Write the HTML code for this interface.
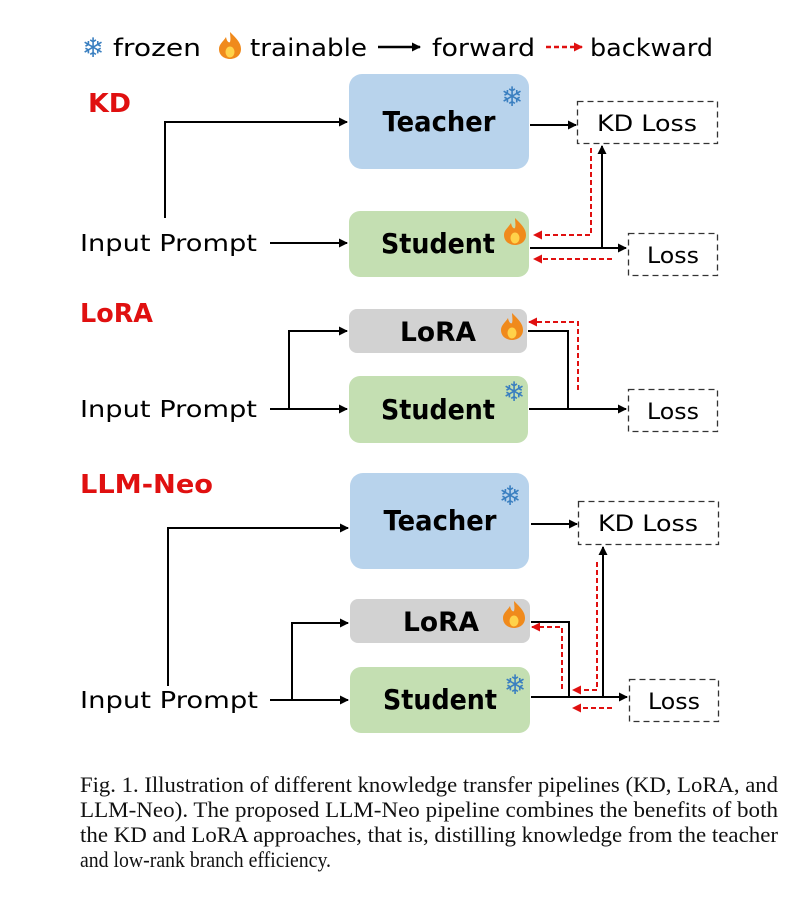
<!DOCTYPE html>
<html><head><meta charset="utf-8"><style>
html,body{margin:0;padding:0;background:#fff;}
svg{display:block}
.h{font-family:"Comic Sans MS","DejaVu Sans",sans-serif;}
.b{font-family:"Comic Sans MS","DejaVu Sans",sans-serif;font-weight:bold;}
.c{font-family:"Liberation Serif",serif;font-size:22px;fill:#111;}
</style></head><body>
<svg width="801" height="911" viewBox="0 0 801 911" xmlns="http://www.w3.org/2000/svg">
<defs>
<marker id="ak" markerWidth="9" markerHeight="9" refX="8" refY="4.5" orient="auto" markerUnits="userSpaceOnUse"><path d="M0,0 L9,4.5 L0,9 z" fill="#000"/></marker>
<marker id="ar" markerWidth="9" markerHeight="9" refX="8" refY="4.5" orient="auto" markerUnits="userSpaceOnUse"><path d="M0,0 L9,4.5 L0,9 z" fill="#e01010"/></marker>
<g id="flame"><path d="M0,-13 C7,-6 11,-2 11,4 C11,11 5,14 0,14 C-5,14 -11,11 -11,4 C-11,-1 -7,-3 -4,-8 C-3,-3 -1,-2 0,-3 C1,-6 0,-10 0,-13 z" fill="#f08a1c"/><ellipse cx="0" cy="7" rx="4.5" ry="5.5" fill="#ffd24a"/></g>
</defs>
<rect width="801" height="911" fill="#fff"/>

<!-- legend -->
<text x="93" y="57" font-size="27" fill="#3a7fc0" text-anchor="middle" class="b">❄</text>
<text x="113" y="56" font-size="24" class="h" textLength="88" lengthAdjust="spacingAndGlyphs">frozen</text>
<use href="#flame" x="230" y="45"/>
<text x="250" y="56" font-size="24" class="h" textLength="117" lengthAdjust="spacingAndGlyphs">trainable</text>
<line x1="378" y1="47" x2="420" y2="47" stroke="#000" stroke-width="2.5" marker-end="url(#ak)"/>
<text x="432" y="56" font-size="24" class="h" textLength="103" lengthAdjust="spacingAndGlyphs">forward</text>
<line x1="546" y1="47" x2="582" y2="47" stroke="#e01010" stroke-width="2.5" stroke-dasharray="5,3" marker-end="url(#ar)"/>
<text x="590" y="56" font-size="24" class="h" textLength="123" lengthAdjust="spacingAndGlyphs">backward</text>

<!-- KD section -->
<text x="88" y="112" font-size="26" fill="#e01010" class="b" textLength="43" lengthAdjust="spacingAndGlyphs">KD</text>
<rect x="349" y="74" width="180" height="95" rx="13" fill="#b8d3ec"/>
<text x="439" y="131" font-size="28" class="b" text-anchor="middle" textLength="113" lengthAdjust="spacingAndGlyphs">Teacher</text>
<text x="512" y="106" font-size="27" fill="#3a7fc0" text-anchor="middle" class="b">❄</text>
<rect x="349" y="211" width="180" height="66" rx="11" fill="#c4dfb2"/>
<text x="438" y="253" font-size="28" class="b" text-anchor="middle" textLength="114" lengthAdjust="spacingAndGlyphs">Student</text>
<use href="#flame" x="515" y="231"/>
<rect x="577.5" y="101.5" width="140" height="42" fill="none" stroke="#333" stroke-width="1.3" stroke-dasharray="6,4"/>
<text x="647" y="131" font-size="22" class="h" text-anchor="middle" textLength="100" lengthAdjust="spacingAndGlyphs">KD Loss</text>
<rect x="628.5" y="233.5" width="89" height="42" fill="none" stroke="#333" stroke-width="1.3" stroke-dasharray="6,4"/>
<text x="673" y="263" font-size="22" class="h" text-anchor="middle" textLength="52" lengthAdjust="spacingAndGlyphs">Loss</text>
<text x="80" y="251" font-size="23" class="h" textLength="177" lengthAdjust="spacingAndGlyphs">Input Prompt</text>
<line x1="270" y1="243" x2="347" y2="243" stroke="#000" stroke-width="2" marker-end="url(#ak)"/>
<polyline points="165,218 165,122 347,122" fill="none" stroke="#000" stroke-width="2" marker-end="url(#ak)"/>
<line x1="530" y1="125" x2="576" y2="125" stroke="#000" stroke-width="2" marker-end="url(#ak)"/>
<line x1="530" y1="248" x2="626" y2="248" stroke="#000" stroke-width="2" marker-end="url(#ak)"/>
<line x1="602" y1="248" x2="602" y2="146" stroke="#000" stroke-width="2" marker-end="url(#ak)"/>
<polyline points="591,148 591,235 534,235" fill="none" stroke="#e01010" stroke-width="2" stroke-dasharray="5,3" marker-end="url(#ar)"/>
<line x1="612" y1="259" x2="534" y2="259" stroke="#e01010" stroke-width="2" stroke-dasharray="5,3" marker-end="url(#ar)"/>

<!-- LoRA section -->
<text x="80" y="322" font-size="26" fill="#e01010" class="b" textLength="73" lengthAdjust="spacingAndGlyphs">LoRA</text>
<rect x="349" y="309" width="178" height="44" rx="8" fill="#d2d2d2"/>
<text x="438" y="341" font-size="27" class="b" text-anchor="middle" textLength="76" lengthAdjust="spacingAndGlyphs">LoRA</text>
<use href="#flame" x="512" y="326"/>
<rect x="349" y="376" width="179" height="67" rx="11" fill="#c4dfb2"/>
<text x="438" y="419" font-size="28" class="b" text-anchor="middle" textLength="114" lengthAdjust="spacingAndGlyphs">Student</text>
<text x="514" y="401" font-size="27" fill="#3a7fc0" text-anchor="middle" class="b">❄</text>
<rect x="628.5" y="389.5" width="89" height="42" fill="none" stroke="#333" stroke-width="1.3" stroke-dasharray="6,4"/>
<text x="673" y="419" font-size="22" class="h" text-anchor="middle" textLength="52" lengthAdjust="spacingAndGlyphs">Loss</text>
<text x="80" y="417" font-size="23" class="h" textLength="177" lengthAdjust="spacingAndGlyphs">Input Prompt</text>
<line x1="270" y1="409" x2="347" y2="409" stroke="#000" stroke-width="2" marker-end="url(#ak)"/>
<polyline points="289,409 289,331 347,331" fill="none" stroke="#000" stroke-width="2" marker-end="url(#ak)"/>
<polyline points="528,331 568,331 568,409" fill="none" stroke="#000" stroke-width="2"/>
<line x1="529" y1="409" x2="626" y2="409" stroke="#000" stroke-width="2" marker-end="url(#ak)"/>
<polyline points="578,390 578,322 529,322" fill="none" stroke="#e01010" stroke-width="2" stroke-dasharray="5,3" marker-end="url(#ar)"/>

<!-- LLM-Neo section -->
<text x="80" y="493" font-size="26" fill="#e01010" class="b" textLength="133" lengthAdjust="spacingAndGlyphs">LLM-Neo</text>
<rect x="350" y="473" width="179" height="96" rx="13" fill="#b8d3ec"/>
<text x="440" y="530" font-size="28" class="b" text-anchor="middle" textLength="113" lengthAdjust="spacingAndGlyphs">Teacher</text>
<text x="510" y="505" font-size="27" fill="#3a7fc0" text-anchor="middle" class="b">❄</text>
<rect x="578.5" y="501.5" width="140" height="43" fill="none" stroke="#333" stroke-width="1.3" stroke-dasharray="6,4"/>
<text x="648" y="531" font-size="22" class="h" text-anchor="middle" textLength="100" lengthAdjust="spacingAndGlyphs">KD Loss</text>
<rect x="350" y="599" width="180" height="44" rx="8" fill="#d2d2d2"/>
<text x="441" y="631" font-size="27" class="b" text-anchor="middle" textLength="76" lengthAdjust="spacingAndGlyphs">LoRA</text>
<use href="#flame" x="514" y="614"/>
<rect x="350" y="667" width="180" height="66" rx="11" fill="#c4dfb2"/>
<text x="440" y="709" font-size="28" class="b" text-anchor="middle" textLength="114" lengthAdjust="spacingAndGlyphs">Student</text>
<text x="515" y="694" font-size="27" fill="#3a7fc0" text-anchor="middle" class="b">❄</text>
<rect x="629.5" y="679.5" width="89" height="42" fill="none" stroke="#333" stroke-width="1.3" stroke-dasharray="6,4"/>
<text x="674" y="709" font-size="22" class="h" text-anchor="middle" textLength="52" lengthAdjust="spacingAndGlyphs">Loss</text>
<text x="80" y="708" font-size="23" class="h" textLength="178" lengthAdjust="spacingAndGlyphs">Input Prompt</text>
<line x1="270" y1="700" x2="348" y2="700" stroke="#000" stroke-width="2" marker-end="url(#ak)"/>
<polyline points="168,686 168,528 348,528" fill="none" stroke="#000" stroke-width="2" marker-end="url(#ak)"/>
<polyline points="292,700 292,623 348,623" fill="none" stroke="#000" stroke-width="2" marker-end="url(#ak)"/>
<line x1="531" y1="524" x2="577" y2="524" stroke="#000" stroke-width="2" marker-end="url(#ak)"/>
<polyline points="531,622 569,622 569,697" fill="none" stroke="#000" stroke-width="2"/>
<line x1="531" y1="697" x2="627" y2="697" stroke="#000" stroke-width="2" marker-end="url(#ak)"/>
<line x1="603" y1="697" x2="603" y2="547" stroke="#000" stroke-width="2" marker-end="url(#ak)"/>
<polyline points="597,562 597,690 573,690" fill="none" stroke="#e01010" stroke-width="2" stroke-dasharray="5,3" marker-end="url(#ar)"/>
<polyline points="562,689 562,627 532,627" fill="none" stroke="#e01010" stroke-width="2" stroke-dasharray="5,3" marker-end="url(#ar)"/>
<line x1="612" y1="708" x2="573" y2="708" stroke="#e01010" stroke-width="2" stroke-dasharray="5,3" marker-end="url(#ar)"/>

<!-- caption -->
<text class="c" x="80" y="792" textLength="698" lengthAdjust="spacingAndGlyphs">Fig. 1.   Illustration of different knowledge transfer pipelines (KD, LoRA, and</text>
<text class="c" x="80" y="817" textLength="698" lengthAdjust="spacingAndGlyphs">LLM-Neo). The proposed LLM-Neo pipeline combines the benefits of both</text>
<text class="c" x="80" y="842" textLength="698" lengthAdjust="spacingAndGlyphs">the KD and LoRA approaches, that is, distilling knowledge from the teacher</text>
<text class="c" x="80" y="867" textLength="251" lengthAdjust="spacingAndGlyphs">and low-rank branch efficiency.</text>
</svg>
</body></html>
